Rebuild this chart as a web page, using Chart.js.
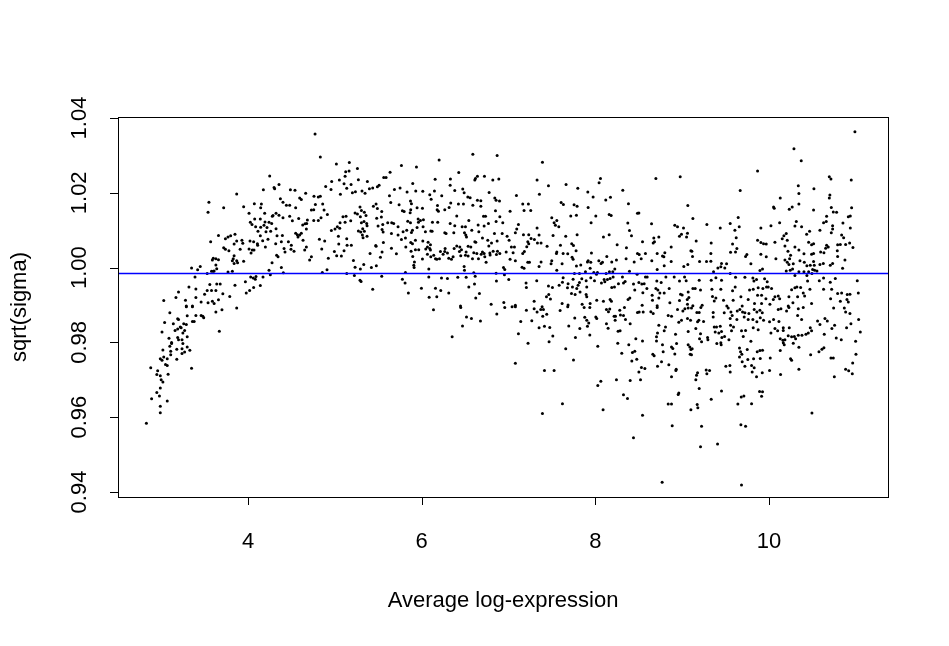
<!DOCTYPE html>
<html><head><meta charset="utf-8">
<script src="https://cdn.jsdelivr.net/npm/chart.js@4/dist/chart.umd.min.js"></script>
<style>html,body{margin:0;padding:0;background:#fff}#wrap{width:949px;height:646px}</style>
</head><body><div id="wrap"><canvas id="c" width="949" height="646"></canvas></div>
<script>
const xTicks=[4,6,8,10];
const yTicks=[0.94,0.96,0.98,1.00,1.02,1.04];
const yTickLabels=["0.94","0.96","0.98","1.00","1.02","1.04"];
const xLimits=[2.503,11.37];
const yLimits=[0.93866,1.04027];
const refLine=0.9984;
const xTitle="Average log-expression";
const yTitle="sqrt(sigma)";

// points with average log-expression below 4
const band1=[[3.87,1.0197],[3.55,1.0175],[3.95,1.0163],[3.72,1.016],[3.54,1.0148],[3.66,1.0086],[3.74,1.0077],[3.77,1.0082],[3.80,1.0085],[3.85,1.0089],[3.57,1.0069],[3.87,1.0071],[3.93,1.0073],[3.84,1.0063],[3.94,1.0065],[3.72,1.0053],[3.74,1.0049],[3.78,1.0045],[3.91,1.0049],[3.84,1.0032],[3.83,1.0024],[3.87,1.0018],[3.82,1.0018],[3.84,1.0011],[3.88,1.0013],[3.60,1.0025],[3.63,1.0024],[3.66,1.0021],[3.59,1.0020],[3.63,1.0007],[3.64,0.9997],[3.61,0.9991],[3.58,0.9990],[3.60,0.9990],[3.53,0.9984],[3.77,0.9988],[3.82,0.9990],[3.95,1.0017],[3.35,0.9999],[3.42,0.9994],[3.45,1.0003],[3.39,0.9975],[3.56,0.9955],[3.64,0.9956],[3.68,0.9956],[3.85,0.9953],[3.97,0.9962],[3.98,0.9932],[3.32,0.9948],[3.40,0.9943],[3.20,0.9935],[3.53,0.9939],[3.58,0.9939],[3.63,0.9939],[3.50,0.9929],[3.71,0.9930],[3.79,0.9923],[3.17,0.9920],[3.40,0.9920],[3.28,0.9913],[3.46,0.9908],[3.03,0.9912],[3.54,0.9906],[3.59,0.9910],[3.66,0.9914],[3.61,0.9904],[3.29,0.9897],[3.36,0.9897],
[3.29,0.9895],[3.36,0.9895],[3.63,0.9881],[3.70,0.9887],[3.87,0.9892],[3.10,0.9879],[3.19,0.9863],[3.20,0.9861],[3.30,0.9871],[3.40,0.9872],[3.46,0.9872],[3.48,0.9870],[3.49,0.9866],[3.36,0.9856],[3.38,0.9856],[3.04,0.9853],[3.14,0.9850],[3.26,0.9850],[3.29,0.9848],[3.22,0.9841],[3.23,0.9839],[3.19,0.9836],[3.16,0.9832],[3.27,0.9832],[3.01,0.9828],[3.67,0.9830],[3.25,0.9825],[3.30,0.9815],[3.09,0.9811],[3.19,0.9813],[3.20,0.9807],[3.24,0.9807],[3.12,0.9800],[3.12,0.9797],[3.25,0.9797],[3.10,0.9790],[3.18,0.9782],[3.30,0.9788],[3.24,0.9783],[3.33,0.9779],[3.02,0.9780],[3.11,0.9776],[3.27,0.9774],[3.24,0.9770],[3.11,0.9767],[3.03,0.9761],[2.99,0.9756],[3.01,0.9752],[3.07,0.9756],[3.18,0.9755],[3.05,0.9741],[3.07,0.9738],[2.88,0.9732],[3.35,0.9731],[2.96,0.9724],[2.95,0.9714],[2.99,0.9711],[3.08,0.9715],[3.00,0.9700],[3.02,0.9694],[2.99,0.9678],[2.95,0.9666],[2.98,0.9657],[2.89,0.9649],[3.07,0.9643],[2.99,0.9629],[2.99,0.9612],[2.83,0.9584]];

// 4 to 5.5
const band2=[[4.772,1.0357],[4.833,1.0296],[5.018,1.0277],[5.167,1.0281],[5.26,1.0265],[4.25,1.0245],[5.125,1.0256],[5.164,1.0258],[5.118,1.0244],[5.052,1.0234],[4.964,1.023],[5.187,1.0222],[5.106,1.0224],[5.271,1.0235],[5.375,1.023],[5.49,1.0216],[4.177,1.0208],[4.3,1.0214],[4.357,1.0222],[4.307,1.0211],[4.488,1.0208],[4.541,1.0207],[4.664,1.0199],[4.895,1.0217],[4.956,1.0209],[5.064,1.0196],[5.137,1.0212],[5.237,1.0203],[5.202,1.02],[5.313,1.0205],[5.348,1.0199],[5.398,1.0211],[5.436,1.0213],[4.073,1.0171],[4.154,1.017],[4.146,1.016],[4.192,1.0145],[4.012,1.0145],[4.027,1.0121],[4.077,1.013],[4.142,1.013],[4.196,1.0122],[4.28,1.0137],[4.288,1.0139],[4.323,1.0145],[4.357,1.014],[4.373,1.0184],[4.403,1.0175],[4.442,1.0167],[4.48,1.0167],[4.595,1.0186],[4.614,1.0182],[4.549,1.016],[4.48,1.0137],[4.511,1.0125],[4.584,1.0131],[4.63,1.0114],[4.657,1.0117],[4.676,1.0118],[4.73,1.0154],[4.757,1.0155],[4.776,1.0169],[4.833,1.0191],[4.76,1.0191],[4.81,1.0189],[4.86,1.017],[4.876,1.0154],[4.914,1.0142],[4.757,1.0126],[4.81,1.0126],[4.841,1.0133],[4.96,1.0099],[5.002,1.0103],[5.029,1.0109],[5.041,1.0084],[5.056,1.0105],[5.094,1.0136],[5.129,1.0137],[5.06,1.012],[5.118,1.0121],[5.183,1.0125],[5.233,1.0146],[5.26,1.0143],[5.294,1.0136],[5.29,1.0162],[5.306,1.0153],[5.34,1.0148],[5.359,1.0139],[5.306,1.012],[5.336,1.0123],[5.367,1.0118],[5.371,1.0112],[5.321,1.0104],[5.482,1.0132],[5.444,1.0164],[5.475,1.017],[5.49,1.0158],[5.271,1.0098],[5.298,1.0095],[5.317,1.0087],[5.34,1.0097],[5.325,1.008],[5.371,1.0084],[5.475,1.0057],[5.498,1.0111],[4.046,1.0115],[4.088,1.0109],[4.146,1.0108],[4.184,1.0113],[4.219,1.0107],[4.242,1.0121],[4.273,1.0118],[4.323,1.0104],[4.261,1.0097],[4.403,1.0133],[4.396,1.0086],[4.334,1.0085],[4.115,1.0097],[4.142,1.0085],[4.207,1.0096],[4.023,1.0071],[4.065,1.0069],[4.169,1.0072],[4.111,1.006],[4.2,1.0055],[4.23,1.0076],[4.319,1.0064],[4.384,1.0069],[4.465,1.0069],[4.549,1.0092],[4.568,1.0088],[4.595,1.0087],[4.614,1.0092],[4.576,1.0082],[4.672,1.0103],[4.684,1.0127],[4.634,1.0073],[4.672,1.0055],[4.653,1.0047],[4.53,1.0044],[4.499,1.006],[4.415,1.0051],[4.426,1.0042],[4.346,1.0029],[4.33,1.0033],[4.277,1.0013],[4.242,0.9993],[4.384,1.0],[4.407,0.9986],[4.495,1.0049],[4.73,1.0029],[4.71,1.002],[4.822,1.0076],[4.883,1.0071],[4.849,1.005],[4.925,1.0025],[4.995,1.0043],[5.021,1.0032],[5.045,1.0063],[5.075,1.0031],[5.106,1.0045],[5.141,1.006],[5.137,1.0077],[5.19,1.006],[5.214,1.0019],[5.233,1.0001],[5.294,0.9996],[5.333,1.0008],[5.406,1.0038],[5.421,1.0],[5.478,1.0005],[5.471,1.0059],[4.012,1.005],[4.05,1.0047],[4.035,1.0039],[4.069,1.0047],[4.108,1.0064],[4.031,0.9975],[4.084,0.9969],[4.173,0.9975],[4.257,0.9981],[4.856,0.9987],[4.91,0.9994],[5.137,0.9984],[5.225,0.9979],[5.29,0.9966],[5.302,0.9963],[5.436,0.9942],[4.019,0.9939],[4.065,0.9947],[4.142,0.9952],[4.092,0.9976],[4.061,0.9972]];

// 5.5 to 7
const band3=[[6.589,1.0303],[6.869,1.03],[6.201,1.0288],[5.767,1.0273],[5.94,1.0269],[5.636,1.0255],[5.563,1.0241],[5.59,1.0241],[5.51,1.022],[6.427,1.0254],[6.619,1.0238],[6.612,1.0234],[6.642,1.0244],[6.723,1.0244],[6.819,1.0234],[6.888,1.0237],[6.155,1.0236],[6.331,1.0237],[6.328,1.022],[5.897,1.0225],[5.686,1.0209],[5.751,1.0213],[5.832,1.0202],[5.932,1.0205],[5.629,1.0192],[5.644,1.0174],[5.74,1.0168],[5.871,1.0178],[5.882,1.0171],[6.013,1.0204],[6.093,1.0195],[6.109,1.0183],[6.147,1.0205],[6.231,1.0192],[6.182,1.0166],[6.178,1.0155],[6.193,1.0151],[6.266,1.0155],[6.335,1.0173],[6.381,1.0206],[6.473,1.021],[6.489,1.02],[6.531,1.0189],[6.558,1.0187],[6.589,1.0167],[6.423,1.017],[6.481,1.017],[6.404,1.0138],[6.316,1.0161],[6.642,1.018],[6.681,1.0179],[6.681,1.0164],[6.842,1.0186],[6.857,1.018],[6.896,1.0178],[6.777,1.0201],[6.85,1.0152],[6.712,1.0137],[6.735,1.0137],[6.9,1.0136],[5.54,1.015],[5.536,1.0135],[5.778,1.0152],[5.798,1.015],[5.874,1.0155],[5.867,1.0147],[5.947,1.016],[6.009,1.0159],[5.552,1.0115],[5.609,1.012],[5.655,1.012],[5.678,1.0118],[5.728,1.0109],[5.84,1.0124],[5.871,1.012],[5.963,1.0121],[5.959,1.013],[5.986,1.0126],[6.02,1.0128],[6.124,1.0121],[6.185,1.0121],[6.328,1.0118],[6.381,1.0112],[6.466,1.0109],[6.504,1.0109],[6.543,1.0126],[6.65,1.0114],[6.719,1.0111],[6.769,1.0118],[6.857,1.0123],[6.934,1.012],[5.544,1.0102],[5.556,1.0095],[5.652,1.0091],[5.728,1.0087],[5.786,1.0096],[5.828,1.01],[5.882,1.0094],[5.894,1.01],[5.947,1.0107],[6.016,1.0109],[6.043,1.0096],[6.105,1.0098],[6.12,1.0097],[6.266,1.0093],[6.281,1.0091],[6.37,1.0093],[6.493,1.0093],[6.508,1.0087],[6.516,1.0082],[6.577,1.01],[6.623,1.0068],[6.658,1.0096],[6.7,1.0079],[6.761,1.0073],[6.804,1.0066],[6.869,1.0071],[6.838,1.0091],[6.927,1.0091],[6.984,1.0084],[5.559,1.0067],[5.767,1.0075],[5.813,1.0079],[5.874,1.0067],[5.894,1.0064],[5.928,1.0073],[6.013,1.0071],[6.074,1.0068],[6.066,1.0055],[6.093,1.0051],[6.101,1.0047],[6.101,1.0061],[6.216,1.0043],[6.266,1.0043],[6.297,1.0039],[6.362,1.0029],[6.374,1.0051],[6.404,1.0058],[6.439,1.0055],[6.458,1.0048],[6.512,1.0042],[6.566,1.0055],[6.535,1.0057],[6.612,1.0069],[6.6,1.004],[6.635,1.0038],[6.7,1.0042],[6.719,1.0038],[6.785,1.0039],[6.773,1.0058],[6.823,1.0044],[6.873,1.0044],[6.9,1.0038],[6.973,1.0042],[5.544,1.0042],[5.652,1.0052],[5.709,1.0037],[5.817,1.0055],[5.878,1.0044],[5.897,1.003],[5.928,1.0048],[5.966,1.0048],[6.009,1.0023],[6.047,1.005],[6.066,1.0036],[6.105,1.0029],[6.139,1.0033],[6.159,1.0024],[6.174,1.0022],[6.205,1.0024],[6.247,1.0036],[6.27,1.0051],[6.312,1.0025],[6.343,1.0022],[6.435,1.0043],[6.45,1.0032],[6.504,1.0033],[6.535,1.0031],[6.585,1.0024],[6.654,1.0024],[6.685,1.0036],[6.727,1.0029],[6.742,1.0014],[6.788,1.0034],[6.861,1.0035],[6.942,1.0],[6.957,0.9995],[5.525,1.0028],[5.917,1.0015],[5.909,1.0006],[5.913,1.0],[6.082,0.9996],[6.082,0.9975],[6.228,0.9972],[6.297,0.9971],[6.416,0.9974],[6.489,1.0003],[6.493,0.9993],[6.512,0.9974],[6.6,0.9986],[6.616,0.9977],[6.857,0.9985],[6.861,0.9964],[6.953,0.9981],[5.54,0.9977],[5.813,0.9987],[5.778,0.9969],[5.809,0.9959],[5.847,0.9932],[5.997,0.9945],[6.086,0.9921],[6.159,0.9945],[6.174,0.9922],[6.22,0.9939],[6.312,0.9932],[6.543,0.9948],[6.608,0.9956],[6.665,0.9931],[6.623,0.9919],[6.8,0.9902],[6.946,0.9907],[6.447,0.9897],[6.136,0.9887],[6.45,0.9893],[6.516,0.9868],[6.573,0.9864],[6.677,0.9857],[6.47,0.9844],[6.351,0.9815],[6.865,0.9876],[6.957,0.9893]];

// 7 to 8.5
const band4=[[7.391,1.0282],[7.329,1.0234],[7.46,1.0219],[7.356,1.0196],[7.091,1.0193],[7.663,1.0222],[7.798,1.0212],[7.913,1.0202],[7.974,1.0189],[8.059,1.0238],[8.043,1.0227],[8.12,1.0181],[8.174,1.0188],[8.316,1.0207],[8.381,1.0171],[7.606,1.0174],[7.632,1.0169],[7.755,1.0168],[7.79,1.0164],[7.917,1.0161],[7.164,1.017],[7.229,1.017],[7.179,1.0153],[7.256,1.0153],[7.018,1.0151],[7.717,1.0138],[7.782,1.014],[8.005,1.0138],[8.159,1.0142],[8.182,1.0139],[7.498,1.0133],[7.525,1.012],[7.556,1.0126],[7.54,1.0113],[7.579,1.0109],[7.951,1.012],[7.114,1.0115],[7.095,1.0103],[7.079,1.0093],[7.172,1.0088],[7.233,1.0088],[7.26,1.0078],[7.329,1.0106],[7.352,1.0087],[7.298,1.0075],[7.333,1.0066],[7.375,1.0066],[7.222,1.0069],[7.007,1.0073],[7.033,1.0055],[7.068,1.0055],[7.053,1.004],[7.018,1.0022],[7.079,1.0018],[7.164,1.0038],[7.183,1.0043],[7.21,1.0056],[7.233,1.0064],[7.444,1.0057],[7.513,1.0086],[7.598,1.006],[7.659,1.0084],[7.79,1.0088],[7.728,1.0064],[7.748,1.0059],[7.778,1.0045],[7.955,1.0039],[8.093,1.0082],[8.159,1.0088],[8.251,1.0061],[8.374,1.0119],[8.393,1.0099],[8.416,1.0085],[8.485,1.0145],[8.358,1.0053],[8.485,1.0038],[7.222,1.0014],[7.241,1.0014],[7.375,1.0015],[7.352,1.0003],[7.498,1.0018],[7.49,1.001],[7.556,1.0042],[7.552,1.0038],[7.629,1.0038],[7.617,1.001],[7.682,1.0037],[7.732,1.0028],[7.744,1.0022],[7.782,1.0004],[7.832,1.0007],[7.917,1.0018],[7.909,1.0015],[7.947,1.0014],[8.04,1.0018],[8.082,1.0014],[8.132,1.003],[8.189,1.0015],[8.243,1.002],[8.354,1.0024],[8.447,1.0015],[7.156,1.0001],[7.179,0.9998],[7.556,0.9993],[7.759,0.9984],[7.817,0.9984],[7.886,0.9989],[7.94,0.9998],[7.982,0.9987],[8.024,0.9987],[8.066,1.0011],[8.124,0.9984],[8.162,0.9989],[8.201,0.9989],[8.224,0.9996],[8.393,0.999],[8.481,0.9982],[7.003,0.9968],[7.325,0.9965],[7.202,0.9959],[7.206,0.9947],[7.629,0.9973],[7.744,0.9969],[7.686,0.9957],[7.817,0.996],[7.844,0.997],[7.894,0.9965],[7.947,0.9973],[7.99,0.9965],[8.013,0.9982],[8.101,0.9968],[8.139,0.9968],[8.17,0.9971],[8.205,0.9975],[8.312,0.9975],[8.343,0.9963],[8.439,0.9956],[7.46,0.9951],[7.506,0.9947],[7.583,0.9953],[7.621,0.9961],[7.679,0.9946],[7.736,0.9948],[7.786,0.9944],[7.801,0.9953],[7.901,0.9948],[8.07,0.9959],[8.109,0.9962],[8.189,0.9947],[8.22,0.9948],[8.266,0.9957],[8.324,0.9959],[8.454,0.994],[7.437,0.9922],[7.463,0.9928],[7.483,0.9916],[7.725,0.9931],[7.767,0.9928],[7.824,0.9935],[7.894,0.9928],[7.901,0.9922],[8.016,0.9913],[8.093,0.991],[8.17,0.9915],[8.185,0.991],[8.377,0.9915],[8.397,0.9919],[7.295,0.991],[7.041,0.9895],[7.079,0.9899],[7.387,0.9895],[7.617,0.9904],[7.686,0.99],[7.848,0.9902],[7.94,0.9904],
[7.079,0.9895],[7.206,0.9886],[7.295,0.989],[7.329,0.9881],[7.371,0.9888],[7.402,0.9888],[7.394,0.987],[7.44,0.9875],[7.594,0.9885],[7.682,0.9895],[7.871,0.9893],[7.936,0.9893],[8.128,0.9888],[8.151,0.9882],[8.166,0.9889],[8.281,0.9886],[8.335,0.9893],[8.485,0.988],[8.216,0.987],[8.232,0.987],[8.289,0.9873],[8.324,0.9872],[8.228,0.9859],[8.401,0.985],[8.347,0.9861],[7.141,0.9856],[7.268,0.9858],[7.352,0.9839],[7.414,0.9843],[7.475,0.984],[7.694,0.9844],[7.763,0.9865],[7.821,0.9837],[7.878,0.9867],[7.901,0.9859],[7.924,0.9852],[7.909,0.9843],[8.005,0.9868],[8.016,0.9864],[8.128,0.985],[8.147,0.9838],[8.262,0.983],[8.285,0.9831],[7.114,0.9823],[7.225,0.9798],[7.467,0.9802],[7.51,0.9817],[7.771,0.9813],[7.936,0.982],[8.028,0.979],[8.258,0.9798],[8.385,0.9794],[8.466,0.981],[7.659,0.9783],[7.748,0.9753],[8.304,0.9771],[8.427,0.9773],[8.454,0.9776],[8.477,0.9755],[8.42,0.975],[7.079,0.9744],[7.414,0.9725],[7.525,0.9725],[8.028,0.9685],[8.063,0.9696],[8.243,0.97],[8.401,0.9698],[8.324,0.966],[8.37,0.965],[7.621,0.9636],[7.391,0.961],[8.089,0.962],[8.439,0.9545]];

// 8.5 to 10
const band5=[[9.868,1.0258],[8.697,1.0238],[8.977,1.0243],[9.668,1.0206],[9.065,1.0166],[8.501,1.0146],[9.123,1.0131],[9.645,1.0134],[8.647,1.0117],[8.915,1.0113],[8.946,1.0109],[9.015,1.0106],[9.284,1.0115],[9.438,1.0106],[9.553,1.0118],[9.607,1.01],[9.657,1.0109],[9.906,1.0106],[8.992,1.0089],[8.969,1.0084],[9.061,1.0092],[9.05,1.0082],[8.673,1.0079],[8.731,1.0082],[8.681,1.0069],[8.666,1.0066],[8.543,1.0069],[9.161,1.0071],[9.334,1.0066],[9.622,1.008],[9.63,1.0051],[9.58,1.0063],[9.868,1.0073],[9.906,1.0067],[9.937,1.0064],[9.968,1.0063],[8.873,1.0055],[9.1,1.0045],[9.111,1.0044],[9.119,1.003],[8.505,1.0035],[8.528,1.0024],[8.577,1.0038],[8.712,1.0038],[8.773,1.0031],[8.8,1.004],[8.789,1.0029],[8.65,1.0018],[8.873,1.0016],[9.019,1.0003],[9.065,1.0008],[9.2,1.0016],[9.28,1.0016],[9.33,1.0017],[9.33,1.0038],[9.411,0.9999],[9.453,1.0011],[9.445,1.0002],[9.511,1.001],[9.491,0.9999],[9.557,1.0041],[9.614,1.0042],[9.745,1.0035],[9.73,1.003],[9.906,1.0036],[9.968,1.0029],[9.791,1.001],[9.895,0.9992],[9.925,0.9996],[8.712,0.9995],[8.793,1.0005],[8.577,0.9975],[8.597,0.9975],[8.501,0.996],[8.535,0.9956],[8.562,0.9957],[8.708,0.9964],[8.758,0.996],[8.812,0.9975],[8.908,0.9975],[8.969,0.9964],[9.027,0.9975],[9.046,0.9965],[9.196,0.9966],[9.334,0.9966],[9.361,0.9989],[9.388,0.9973],[9.453,0.9966],[9.553,0.9984],[9.614,0.9974],[9.722,0.9974],[9.814,0.9972],[9.826,0.9964],[9.856,0.9968],[9.949,0.997],[9.979,0.9962],[8.593,0.9944],[8.697,0.9944],[8.72,0.994],[8.743,0.9932],[8.793,0.9932],[8.85,0.9944],[8.981,0.9929],[9.0,0.9927],[9.069,0.9935],[9.123,0.9944],[9.15,0.9944],[9.211,0.994],[9.342,0.9942],[9.445,0.9942],[9.58,0.9938],[9.61,0.9948],[9.776,0.994],[9.818,0.9942],[9.875,0.9946],[9.929,0.9944],[9.971,0.9948],[8.547,0.9933],[8.654,0.9926],[8.731,0.9919],[8.658,0.9913],[8.969,0.9912],[9.058,0.9915],[9.077,0.992],[9.349,0.9923],[9.388,0.9919],[9.369,0.9911],[9.476,0.9913],[9.587,0.9913],[9.676,0.9922],[9.76,0.9915],[9.868,0.9926],[9.914,0.9926],[9.964,0.9917],[9.833,0.9904],[9.914,0.9904],[8.858,0.9906],[8.539,0.9899],[8.712,0.9898],[9.061,0.9902],[9.123,0.9898],[9.23,0.9899],[9.514,0.9897],[9.691,0.9897],
[8.505,0.9881],[8.551,0.9881],[8.639,0.9882],[8.666,0.9877],[8.712,0.9893],[8.839,0.9872],[8.877,0.987],[8.946,0.9888],[9.008,0.9884],[9.031,0.989],[9.069,0.9892],[9.107,0.9892],[9.169,0.988],[9.196,0.988],[9.215,0.9893],[9.357,0.988],[9.484,0.9879],[9.53,0.9892],[9.561,0.9881],[9.576,0.9872],[9.634,0.9884],[9.664,0.9888],[9.695,0.9881],[9.722,0.9879],[9.768,0.9877],[9.829,0.9888],[9.86,0.9881],[9.895,0.9886],[9.922,0.9879],[8.992,0.9859],[8.961,0.9854],[9.061,0.9864],[9.096,0.9859],[9.177,0.9855],[9.192,0.9859],[9.246,0.9856],[9.357,0.9868],[9.553,0.9864],[9.557,0.9846],[9.591,0.9841],[9.63,0.9861],[9.714,0.9868],[9.76,0.9861],[9.814,0.9861],[9.86,0.9855],[9.899,0.9866],[9.937,0.9859],[8.731,0.9846],[8.808,0.9841],[8.793,0.9831],[8.716,0.9825],[8.704,0.9815],[8.704,0.9804],[8.923,0.9822],[9.069,0.9829],[9.157,0.9837],[9.211,0.9823],[9.2,0.981],[9.223,0.9802],[9.292,0.9813],[9.296,0.9807],[9.369,0.9841],[9.395,0.9841],[9.438,0.9843],[9.453,0.9829],[9.422,0.9825],[9.38,0.9828],[9.457,0.9813],[9.488,0.9816],[9.538,0.9807],[9.568,0.9831],[9.683,0.9831],[9.73,0.9832],[9.703,0.9816],[9.818,0.9839],[9.875,0.9834],[9.791,0.9803],[8.543,0.9804],[8.773,0.9794],[8.877,0.9788],[8.892,0.9784],[8.935,0.9797],[9.069,0.9794],[9.088,0.9788],[9.1,0.9781],[9.115,0.9783],[9.092,0.9768],[9.107,0.9767],[8.915,0.9769],[8.781,0.9775],[8.662,0.9768],[8.677,0.9764],[8.762,0.9748],[8.846,0.974],[8.716,0.9736],[8.877,0.9708],[8.927,0.9725],[8.931,0.9728],[9.177,0.9719],[9.165,0.9712],[9.157,0.97],[9.276,0.9726],[9.284,0.9716],[9.315,0.9725],[9.399,0.9797],[9.445,0.9799],[9.449,0.9794],[9.503,0.9736],[9.549,0.9738],[9.553,0.9721],[9.66,0.9785],[9.672,0.9775],[9.66,0.9761],[9.687,0.9768],[9.749,0.9781],[9.691,0.9748],[9.722,0.9736],[9.756,0.9754],[9.799,0.9738],[9.822,0.9756],[9.829,0.9732],[9.806,0.9721],[9.856,0.9708],[9.864,0.9775],[9.895,0.9778],[9.925,0.9779],[9.899,0.9757],[9.922,0.9719],[9.891,0.9669],[9.925,0.9668],[9.914,0.9656],[8.531,0.9733],[8.57,0.973],[8.501,0.9721],[8.52,0.97],[8.961,0.9665],[8.954,0.9661],[9.196,0.9677],[9.453,0.967],[9.334,0.9648],[9.68,0.9654],[9.71,0.9657],[9.641,0.9635],[9.799,0.9636],[8.839,0.9635],[8.877,0.9635],[9.173,0.9634],[9.18,0.9625],[9.1,0.962],[8.543,0.9605],[8.885,0.9577],[9.223,0.9576],[9.676,0.958],[9.73,0.9576],[9.211,0.9521],[9.407,0.9528],[8.769,0.9426],[9.683,0.9419]];

// above 10
const band6=[[10.989,1.0363],[10.287,1.0318],[10.371,1.0286],[10.694,1.0243],[10.713,1.0237],[10.947,1.0234],[10.337,1.0219],[10.517,1.0211],[10.344,1.0198],[10.701,1.0194],[10.694,1.0186],[10.129,1.0186],[10.052,1.0162],[10.06,1.0159],[10.233,1.0156],[10.267,1.0162],[10.344,1.017],[10.513,1.0154],[10.717,1.0161],[10.74,1.0149],[10.778,1.0148],[10.951,1.016],[10.663,1.0137],[10.913,1.0136],[10.936,1.0138],[10.022,1.0112],[10.122,1.012],[10.314,1.0123],[10.298,1.0111],[10.375,1.0109],[10.433,1.0089],[10.467,1.0097],[10.586,1.01],[10.628,1.012],[10.659,1.0123],[10.732,1.0112],[10.732,1.0103],[10.717,1.0093],[10.851,1.0119],[10.936,1.0106],[10.836,1.0087],[10.859,1.008],[10.198,1.0091],[10.171,1.0085],[10.21,1.0073],[10.152,1.0077],[10.068,1.0068],[10.456,1.0068],[10.49,1.0061],[10.513,1.0064],[10.663,1.006],[10.682,1.0055],[10.652,1.0052],[10.79,1.0061],[10.821,1.0062],[10.882,1.0062],[10.928,1.0066],[10.966,1.0054],[10.183,1.0058],[10.298,1.0055],[10.344,1.0047],[10.218,1.0044],[10.248,1.0033],[10.237,1.0024],[10.402,1.0037],[10.49,1.0036],[10.513,1.0038],[10.594,1.0042],[10.632,1.004],[10.786,1.0045],[10.79,1.003],[10.079,1.0024],[10.183,1.002],[10.21,1.0014],[10.229,1.0008],[10.279,1.001],[10.356,1.0018],[10.406,1.0014],[10.436,1.0005],[10.475,1.0006],[10.513,1.0016],[10.521,1.0006],[10.586,1.0008],[10.625,1.0011],[10.705,1.0006],[10.732,1.0011],[10.874,1.002],[10.847,0.9998],[10.198,0.9991],[10.244,0.9993],[10.271,0.9996],[10.344,0.9989],[10.402,0.9989],[10.456,0.9989],[10.502,0.9995],[10.525,0.9993],[10.552,0.9991],[10.494,0.9984],[10.298,0.9979],[10.436,0.9979],[10.444,0.9964],[10.579,0.9965],[10.628,0.9972],[10.705,0.9961],[10.763,0.9971],[11.016,0.9965],[9.991,0.9948],[10.029,0.9944],[10.26,0.9941],[10.298,0.9946],[10.321,0.9948],[10.364,0.9947],[10.471,0.9942],[10.628,0.9942],[10.721,0.9942],[10.79,0.9931],[10.836,0.9932],[10.901,0.9928],[10.932,0.9929],[11.028,0.9932],[10.394,0.9932],[10.41,0.9924],[10.068,0.9922],[10.106,0.9924],[10.122,0.9917],[10.049,0.9915],[10.229,0.9922],[10.329,0.9922],[10.709,0.9917],[10.821,0.991],[10.897,0.9915],[10.913,0.9908],[10.275,0.9906],[10.49,0.9904],[10.01,0.9902],[10.221,0.9897],
[10.106,0.9888],[10.137,0.989],[10.202,0.9884],[10.229,0.9893],[10.337,0.989],[10.394,0.9893],[10.744,0.9892],[10.867,0.9892],[10.882,0.9881],[10.932,0.9877],[10.329,0.9872],[10.375,0.9861],[10.006,0.9855],[10.052,0.9861],[10.114,0.9856],[10.559,0.9857],[10.586,0.9848],[10.644,0.9864],[10.671,0.9857],[10.755,0.9846],[10.724,0.9837],[10.943,0.985],[10.893,0.9839],[11.032,0.9861],[10.068,0.9837],[10.022,0.9825],[10.099,0.9831],[10.164,0.9839],[10.164,0.9832],[10.233,0.9839],[10.129,0.981],[10.16,0.9806],[10.183,0.9807],[10.164,0.9799],[10.175,0.9794],[10.221,0.9818],[10.26,0.9815],[10.291,0.9816],[10.306,0.981],[10.337,0.9819],[10.379,0.9819],[10.425,0.9822],[10.452,0.9825],[10.49,0.9831],[10.475,0.9839],[10.636,0.9822],[10.774,0.9812],[10.832,0.9807],[11.051,0.9828],[10.997,0.9803],[10.279,0.9798],[10.344,0.9787],[10.632,0.9786],[10.609,0.9782],[10.575,0.9775],[10.479,0.9767],[10.129,0.9778],[10.248,0.9756],[10.26,0.9752],[10.014,0.9758],[10.006,0.9725],[10.133,0.9714],[10.344,0.9728],[10.713,0.9758],[10.74,0.9758],[11.001,0.9768],[10.963,0.9745],[10.882,0.9728],[10.917,0.9724],[10.959,0.9716],[10.752,0.9708],[10.494,0.9611]];

const allPoints=[].concat(band1,band2,band3,band4,band5,band6).map(p=>({x:p[0],y:p[1]}));

const axisPlugin={
  id:'rAxes',
  afterDraw(chart){
    const {ctx,chartArea:a,scales:{x,y}}=chart;
    ctx.save();
    ctx.strokeStyle='#000';ctx.lineWidth=1;
    ctx.strokeRect(Math.round(a.left)+0.5,Math.round(a.top)+0.5,Math.round(a.right-a.left),Math.round(a.bottom-a.top));
    ctx.beginPath();
    xTicks.forEach(v=>{const px=Math.round(x.getPixelForValue(v))+0.5;ctx.moveTo(px,a.bottom);ctx.lineTo(px,a.bottom+8);});
    yTicks.forEach(v=>{const py=Math.round(y.getPixelForValue(v))+0.5;ctx.moveTo(a.left,py);ctx.lineTo(a.left-8,py);});
    ctx.stroke();
    ctx.fillStyle='#000';
    ctx.font='22px "Liberation Sans", Arial, sans-serif';
    ctx.textAlign='center';ctx.textBaseline='middle';
    xTicks.forEach(v=>ctx.fillText(String(v),x.getPixelForValue(v),542));
    yTicks.forEach((v,i)=>{ctx.save();ctx.translate(80,y.getPixelForValue(v));ctx.rotate(-Math.PI/2);ctx.fillText(yTickLabels[i],0,0);ctx.restore();});
    ctx.fillText(xTitle,(a.left+a.right)/2,601);
    ctx.save();ctx.translate(20,(a.top+a.bottom)/2);ctx.rotate(-Math.PI/2);ctx.fillText(yTitle,0,0);ctx.restore();
    ctx.restore();
  }
};

new Chart(document.getElementById('c').getContext('2d'),{
  type:'scatter',
  data:{datasets:[
    {type:'line',data:[{x:xLimits[0],y:refLine},{x:xLimits[1],y:refLine}],borderColor:'#0000ff',borderWidth:1.5,pointRadius:0,fill:false,order:0},
    {type:'scatter',data:allPoints,backgroundColor:'#000',borderWidth:0,pointRadius:1.5,order:1}
  ]},
  options:{
    responsive:false,animation:false,devicePixelRatio:1,
    layout:{padding:{left:0,right:61,top:117,bottom:0}},
    plugins:{legend:{display:false},tooltip:{enabled:false}},
    scales:{
      x:{type:'linear',min:xLimits[0],max:xLimits[1],
         afterBuildTicks:s=>{s.ticks=xTicks.map(v=>({value:v}));},
         afterFit:s=>{s.height=149;},
         ticks:{display:false},grid:{display:false},border:{display:false}},
      y:{type:'linear',min:yLimits[0],max:yLimits[1],
         afterBuildTicks:s=>{s.ticks=yTicks.map(v=>({value:v}));},
         afterFit:s=>{s.width=118;},
         ticks:{display:false},grid:{display:false},border:{display:false}}
    }
  },
  plugins:[axisPlugin]
});
</script>
</body></html>
